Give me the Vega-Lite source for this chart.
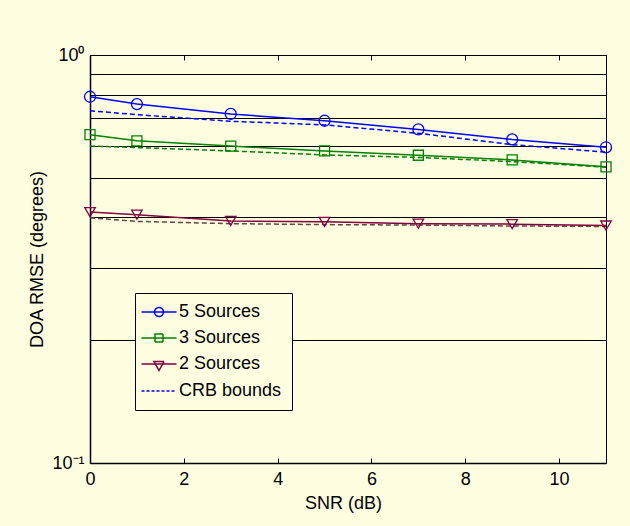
{
  "$schema": "https://vega.github.io/schema/vega-lite/v6.json",
  "width": 516,
  "height": 408,
  "autosize": {"type": "none"},
  "padding": {"left": 90, "top": 55, "right": 24, "bottom": 63},
  "background": "#FFFEE1",
  "config": {
    "font": "Liberation Sans",
    "view": {"stroke": "black", "strokeWidth": 1},
    "axis": {
      "labelFont": "Liberation Sans",
      "titleFont": "Liberation Sans",
      "labelColor": "black",
      "titleColor": "black",
      "titleFontWeight": "normal",
      "labelFontSize": 18,
      "titleFontSize": 18,
      "labelFlush": false
    }
  },
  "data": {
    "values": [
      {"snr": 0, "rmse": 0.790, "curve": "5 Sources"},
      {"snr": 1, "rmse": 0.758, "curve": "5 Sources"},
      {"snr": 3, "rmse": 0.717, "curve": "5 Sources"},
      {"snr": 5, "rmse": 0.690, "curve": "5 Sources"},
      {"snr": 7, "rmse": 0.657, "curve": "5 Sources"},
      {"snr": 9, "rmse": 0.621, "curve": "5 Sources"},
      {"snr": 11, "rmse": 0.594, "curve": "5 Sources"},
      {"snr": 0, "rmse": 0.638, "curve": "3 Sources"},
      {"snr": 1, "rmse": 0.616, "curve": "3 Sources"},
      {"snr": 3, "rmse": 0.598, "curve": "3 Sources"},
      {"snr": 5, "rmse": 0.582, "curve": "3 Sources"},
      {"snr": 7, "rmse": 0.568, "curve": "3 Sources"},
      {"snr": 9, "rmse": 0.553, "curve": "3 Sources"},
      {"snr": 11, "rmse": 0.532, "curve": "3 Sources"},
      {"snr": 0, "rmse": 0.412, "curve": "2 Sources"},
      {"snr": 1, "rmse": 0.406, "curve": "2 Sources"},
      {"snr": 3, "rmse": 0.392, "curve": "2 Sources"},
      {"snr": 5, "rmse": 0.390, "curve": "2 Sources"},
      {"snr": 7, "rmse": 0.386, "curve": "2 Sources"},
      {"snr": 9, "rmse": 0.385, "curve": "2 Sources"},
      {"snr": 11, "rmse": 0.382, "curve": "2 Sources"},
      {"snr": 0, "rmse": 0.730, "curve": "CRB 5"},
      {"snr": 1, "rmse": 0.714, "curve": "CRB 5"},
      {"snr": 3, "rmse": 0.688, "curve": "CRB 5"},
      {"snr": 5, "rmse": 0.674, "curve": "CRB 5"},
      {"snr": 7, "rmse": 0.643, "curve": "CRB 5"},
      {"snr": 9, "rmse": 0.603, "curve": "CRB 5"},
      {"snr": 11, "rmse": 0.578, "curve": "CRB 5"},
      {"snr": 0, "rmse": 0.598, "curve": "CRB 3"},
      {"snr": 1, "rmse": 0.593, "curve": "CRB 3"},
      {"snr": 3, "rmse": 0.582, "curve": "CRB 3"},
      {"snr": 5, "rmse": 0.569, "curve": "CRB 3"},
      {"snr": 7, "rmse": 0.561, "curve": "CRB 3"},
      {"snr": 9, "rmse": 0.548, "curve": "CRB 3"},
      {"snr": 11, "rmse": 0.531, "curve": "CRB 3"},
      {"snr": 0, "rmse": 0.399, "curve": "CRB 2"},
      {"snr": 1, "rmse": 0.391, "curve": "CRB 2"},
      {"snr": 3, "rmse": 0.386, "curve": "CRB 2"},
      {"snr": 5, "rmse": 0.384, "curve": "CRB 2"},
      {"snr": 7, "rmse": 0.383, "curve": "CRB 2"},
      {"snr": 9, "rmse": 0.381, "curve": "CRB 2"},
      {"snr": 11, "rmse": 0.380, "curve": "CRB 2"}
    ]
  },
  "resolve": {"axis": {"x": "independent"}},
  "layer": [
    {
      "transform": [{"filter": {"field": "curve", "oneOf": ["CRB 5", "CRB 3", "CRB 2"]}}],
      "mark": {"type": "line", "strokeWidth": 1.5, "strokeDash": [5, 3]},
      "encoding": {
        "x": {
          "field": "snr", "type": "quantitative",
          "scale": {"domain": [0, 11], "nice": false, "zero": false},
          "axis": {
            "orient": "bottom", "values": [0, 2, 4, 6, 8, 10], "title": "SNR (dB)",
            "grid": false, "tickSize": -5, "tickColor": "black", "domainColor": "black",
            "domainWidth": 1.5, "labelPadding": 12, "titlePadding": 6, "titleX": 253
          }
        },
        "y": {
          "field": "rmse", "type": "quantitative",
          "scale": {"type": "log", "domain": [0.1, 1], "nice": false},
          "axis": {
            "values": [0.1, 0.2, 0.3, 0.4, 0.5, 0.6, 0.7, 0.8, 0.9, 1],
            "labelExpr": "datum.value > 0.95 ? '10⁰' : (datum.value < 0.15 ? '10⁻¹' : '')",
            "grid": true, "gridColor": "black", "gridOpacity": 1, "gridWidth": 1,
            "ticks": false, "domainColor": "black", "domainWidth": 1.5,
            "title": "DOA RMSE (degrees)", "labelPadding": 6, "titlePadding": 5
          }
        },
        "color": {
          "field": "curve", "type": "nominal",
          "scale": {
            "domain": ["5 Sources", "3 Sources", "2 Sources", "CRB 5", "CRB 3", "CRB 2"],
            "range": ["#0000FF", "#008000", "#800040", "#0000FF", "#008000", "#604545"]
          },
          "legend": null
        }
      }
    },
    {
      "transform": [{"filter": {"field": "curve", "oneOf": ["5 Sources", "3 Sources", "2 Sources"]}}],
      "mark": {"type": "line", "strokeWidth": 1.5},
      "encoding": {
        "x": {"field": "snr", "type": "quantitative", "axis": null},
        "y": {"field": "rmse", "type": "quantitative"},
        "color": {"field": "curve", "type": "nominal", "legend": null}
      }
    },
    {
      "transform": [{"filter": "datum.curve == '5 Sources'"}],
      "mark": {"type": "point", "shape": "circle", "size": 121, "filled": false, "color": "#0000FF", "strokeWidth": 1.3, "opacity": 1},
      "encoding": {
        "x": {"field": "snr", "type": "quantitative", "axis": null},
        "y": {"field": "rmse", "type": "quantitative"}
      }
    },
    {
      "transform": [{"filter": "datum.curve == '3 Sources'"}],
      "mark": {"type": "point", "shape": "square", "size": 100, "filled": false, "color": "#008000", "strokeWidth": 1.3, "opacity": 1},
      "encoding": {
        "x": {"field": "snr", "type": "quantitative", "axis": null},
        "y": {"field": "rmse", "type": "quantitative"}
      }
    },
    {
      "transform": [{"filter": "datum.curve == '2 Sources'"}],
      "mark": {"type": "point", "shape": "triangle-down", "size": 110, "filled": false, "color": "#800040", "strokeWidth": 1.3, "opacity": 1},
      "encoding": {
        "x": {"field": "snr", "type": "quantitative", "axis": null},
        "y": {"field": "rmse", "type": "quantitative"}
      }
    },
    {
      "transform": [{"filter": {"field": "curve", "oneOf": ["5 Sources", "3 Sources", "2 Sources", "CRB 5"]}}],
      "mark": {"type": "point", "filled": false, "opacity": 0},
      "encoding": {
        "x": {
          "field": "snr", "type": "quantitative",
          "axis": {
            "orient": "top", "values": [0, 2, 4, 6, 8, 10], "labels": false, "title": null,
            "tickSize": -5, "tickColor": "black", "domain": false, "grid": false
          }
        },
        "y": {"field": "rmse", "type": "quantitative"},
        "shape": {
          "field": "curve", "type": "nominal",
          "scale": {
            "domain": ["5 Sources", "3 Sources", "2 Sources", "CRB 5"],
            "range": [
              "M-2.5,0H4.5M1.9,0C1.9,0.497 1.497,0.9 1,0.9C0.503,0.9 0.1,0.497 0.1,0C0.1,-0.497 0.503,-0.9 1,-0.9C1.497,-0.9 1.9,-0.497 1.9,0Z",
              "M-2.5,0H4.5M0.2,-0.8H1.8V0.8H0.2Z",
              "M-2.5,0H4.5M0,-0.5H2L1,1.3Z",
              "M-2.5,0H4.5"
            ]
          },
          "legend": {
            "orient": "none", "legendX": 45, "legendY": 238, "title": null,
            "direction": "vertical", "labelFontSize": 18, "labelFont": "Liberation Sans",
            "labelColor": "black", "symbolSize": 100, "symbolStrokeWidth": 1.5,
            "symbolOpacity": 1, "symbolFillColor": "transparent", "labelOffset": 16,
            "rowPadding": 8, "padding": 10, "strokeColor": "black", "fillColor": "#FFFEE1",
            "labelExpr": "datum.label == 'CRB 5' ? 'CRB bounds' : datum.label"
          }
        },
        "stroke": {
          "field": "curve", "type": "nominal",
          "scale": {
            "domain": ["5 Sources", "3 Sources", "2 Sources", "CRB 5"],
            "range": ["#0000FF", "#008000", "#800040", "#0000FF"]
          }
        },
        "strokeDash": {
          "field": "curve", "type": "nominal",
          "scale": {
            "domain": ["5 Sources", "3 Sources", "2 Sources", "CRB 5"],
            "range": [[1, 0], [1, 0], [1, 0], [3, 2]]
          }
        }
      }
    }
  ]
}
